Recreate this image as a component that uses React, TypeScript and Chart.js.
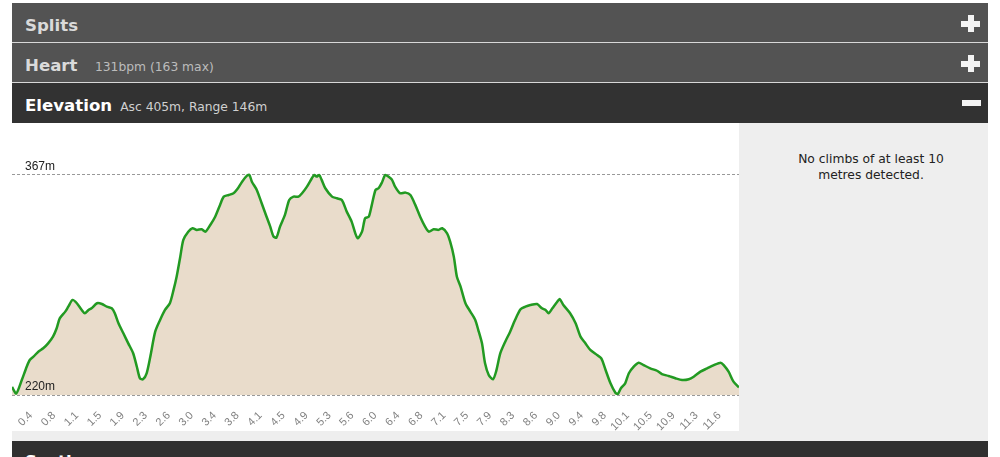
import React, { useEffect, useRef } from "react";
import { Chart, registerables } from "chart.js";

Chart.register(...registerables);

// distance along the route (km) and elevation (m), read from the profile
const DIST_KM = [
  0.13, 0.2, 0.29, 0.37, 0.42, 0.48, 0.56, 0.64, 0.72, 0.8,
  0.86, 0.91, 1.0, 1.05, 1.12, 1.19, 1.27, 1.32, 1.38, 1.43,
  1.52, 1.6, 1.68, 1.76, 1.81, 1.87, 1.95, 2.03, 2.11, 2.17,
  2.22, 2.27, 2.33, 2.39, 2.47, 2.55, 2.63, 2.71, 2.77, 2.82,
  2.88, 2.93, 3.01, 3.08, 3.15, 3.23, 3.29, 3.37, 3.45, 3.53,
  3.59, 3.67, 3.75, 3.81, 3.89, 3.97, 4.01, 4.05, 4.13, 4.21,
  4.29, 4.35, 4.4, 4.45, 4.51, 4.59, 4.66, 4.73, 4.81, 4.87,
  4.95, 5.03, 5.07, 5.11, 5.15, 5.19, 5.25, 5.36, 5.44, 5.52,
  5.6, 5.68, 5.74, 5.78, 5.85, 5.9, 5.96, 6.01, 6.07, 6.12,
  6.17, 6.23, 6.28, 6.34, 6.39, 6.47, 6.56, 6.64, 6.72, 6.8,
  6.88, 6.94, 7.02, 7.1, 7.16, 7.24, 7.29, 7.35, 7.4, 7.46,
  7.54, 7.62, 7.7, 7.75, 7.81, 7.86, 7.92, 7.99, 8.04, 8.11,
  8.19, 8.27, 8.35, 8.44, 8.52, 8.6, 8.71, 8.79, 8.85, 8.9,
  8.96, 9.04, 9.08, 9.14, 9.25, 9.34, 9.42, 9.5, 9.58, 9.69,
  9.76, 9.83, 9.91, 9.99, 10.03, 10.08, 10.15, 10.21, 10.29, 10.37,
  10.45, 10.56, 10.67, 10.75, 10.86, 10.97, 11.08, 11.19, 11.27, 11.38,
  11.49, 11.6, 11.71, 11.76, 11.84, 11.92, 12.01,
];

const ELEV_M = [
  225.4, 221.0, 230.0, 238.9, 243.4, 245.6, 248.9, 251.2, 254.5, 259.0,
  264.6, 271.2, 275.7, 279.0, 283.5, 281.3, 276.8, 274.6, 276.8, 277.9,
  281.3, 280.8, 279.0, 277.9, 274.6, 267.9, 261.2, 254.5, 247.9, 238.9,
  231.2, 230.5, 234.5, 245.6, 262.3, 270.1, 276.8, 281.3, 290.2, 299.0,
  312.4, 323.6, 329.1, 331.4, 330.3, 330.7, 329.1, 333.6, 339.1, 347.0,
  352.5, 353.6, 354.8, 357.4, 362.5, 366.5, 367.0, 362.5, 357.0, 348.1,
  339.1, 332.5, 326.2, 325.1, 332.5, 340.3, 350.3, 352.5, 352.5, 354.8,
  359.2, 364.8, 367.0, 365.9, 367.0, 363.7, 358.1, 352.5, 351.4, 350.3,
  342.5, 335.8, 328.0, 324.7, 329.1, 338.1, 339.1, 347.0, 357.0, 358.1,
  361.5, 367.0, 365.9, 363.7, 359.2, 354.8, 355.2, 353.6, 347.0, 339.1,
  332.5, 329.1, 330.7, 330.3, 331.4, 328.0, 322.4, 312.4, 299.0, 292.4,
  281.3, 275.7, 270.1, 263.4, 254.5, 241.2, 233.4, 230.5, 235.6, 247.9,
  255.6, 262.3, 270.1, 277.3, 279.0, 280.1, 280.8, 277.9, 276.8, 274.6,
  277.9, 282.3, 284.1, 280.1, 274.6, 267.9, 259.0, 254.5, 250.1, 246.7,
  244.5, 236.7, 227.8, 221.5, 220.7, 224.5, 227.8, 234.5, 238.9, 241.6,
  240.0, 237.8, 236.2, 234.0, 232.7, 231.2, 230.0, 230.5, 232.2, 235.6,
  237.8, 240.0, 241.6, 240.0, 235.6, 228.9, 225.1,
];

// x-axis ticks (km) and their labels
const X_TICK_VALUES = [
  0.375, 0.75, 1.125, 1.5, 1.875, 2.25, 2.625, 3.0, 3.375, 3.75, 4.125,
  4.5, 4.875, 5.25, 5.625, 6.0, 6.375, 6.75, 7.125, 7.5, 7.875, 8.25,
  8.625, 9.0, 9.375, 9.75, 10.125, 10.5, 10.875, 11.25, 11.625,
];
const X_TICK_LABELS = [
  "0.4", "0.8", "1.1", "1.5", "1.9", "2.3", "2.6", "3.0", "3.4", "3.8", "4.1",
  "4.5", "4.9", "5.3", "5.6", "6.0", "6.4", "6.8", "7.1", "7.5", "7.9", "8.3",
  "8.6", "9.0", "9.4", "9.8", "10.1", "10.5", "10.9", "11.3", "11.6",
];

// min / max elevation markers
const Y_MARKERS = [220, 367];
const Y_MARKER_LABELS = ["220m", "367m"];
const Y_MIN = 220;
const Y_MAX = 401.7;

const HEAD_FONT = '"DejaVu Sans", Verdana, sans-serif';

function ElevationChart() {
  const ref = useRef<HTMLCanvasElement | null>(null);
  useEffect(() => {
    if (!ref.current) return;
    const chart = new Chart(ref.current, {
      type: "line",
      data: {
        datasets: [
          {
            data: DIST_KM.map((x, i) => ({ x, y: ELEV_M[i] })),
            borderColor: "#229a22",
            borderWidth: 2.5,
            backgroundColor: "#e9dccb",
            fill: "start",
            pointRadius: 0,
            tension: 0.25,
          },
        ],
      },
      options: {
        animation: false,
        responsive: false,
        maintainAspectRatio: false,
        layout: { padding: 0 },
        plugins: { legend: { display: false }, tooltip: { enabled: false } },
        scales: {
          x: {
            type: "linear",
            min: DIST_KM[0],
            max: DIST_KM[DIST_KM.length - 1],
            grid: { display: false, drawTicks: false },
            border: { display: false },
            afterBuildTicks: (s: any) => {
              s.ticks = X_TICK_VALUES.map((v) => ({ value: v }));
            },
            afterFit: (s: any) => {
              s.height = 36;
              s.paddingLeft = 0;
              s.paddingRight = 0;
            },
            ticks: {
              autoSkip: false,
              minRotation: 45,
              maxRotation: 45,
              padding: 14,
              labelOffset: 4,
              color: "#808080",
              font: { family: '"Liberation Sans", Arial, sans-serif', size: 11 },
              callback: (_v: any, i: number) => X_TICK_LABELS[i],
            },
          },
          y: {
            type: "linear",
            position: "left",
            min: Y_MIN,
            max: Y_MAX,
            grid: { color: "#999", lineWidth: 1, drawTicks: false },
            border: { display: false, dash: [3, 2] },
            afterBuildTicks: (s: any) => {
              s.ticks = Y_MARKERS.map((v) => ({ value: v }));
            },
            afterFit: (s: any) => {
              s.width = 0;
              s.paddingTop = 0;
              s.paddingBottom = 0;
            },
            ticks: {
              z: 1,
              autoSkip: false,
              mirror: true,
              padding: 13,
              labelOffset: -8,
              color: "#222",
              font: { family: '"Liberation Sans", Arial, sans-serif', size: 12 },
              callback: (_v: any, i: number) => Y_MARKER_LABELS[i],
            },
          },
        },
      },
    });
    return () => chart.destroy();
  }, []);
  return (
    <canvas
      ref={ref}
      width={727}
      height={308}
      style={{ position: "absolute", left: 12, top: 123, width: 727, height: 308, display: "block" }}
    />
  );
}

function Plus({ cy }: { cy: number }) {
  return (
    <>
      <div style={{ position: "absolute", left: 961, top: cy - 3, width: 19, height: 6, background: "#f4f4f4" }} />
      <div style={{ position: "absolute", left: 967.5, top: cy - 8.5, width: 6, height: 17, background: "#f4f4f4" }} />
    </>
  );
}

function Bar({ top, height, bg, title, titleColor, sub, subColor, subGap }: any) {
  return (
    <div style={{ position: "absolute", left: 12, top, width: 976, height, background: bg }}>
      <div
        style={{
          position: "absolute",
          left: 13,
          top: 3,
          lineHeight: height + "px",
          whiteSpace: "nowrap",
          fontFamily: HEAD_FONT,
        }}
      >
        <span style={{ fontWeight: "bold", fontSize: 16.6, color: titleColor }}>{title}</span>
        {sub ? (
          <span style={{ fontSize: 12.3, color: subColor, marginLeft: subGap }}>{sub}</span>
        ) : null}
      </div>
    </div>
  );
}

export default function App() {
  return (
    <div
      style={{
        position: "absolute",
        left: 0,
        top: 0,
        width: 1000,
        height: 457,
        overflow: "hidden",
        background: "#fff",
        fontFamily: HEAD_FONT,
      }}
    >
      <Bar top={3} height={39} bg="#535353" title="Splits" titleColor="#dadada" />
      <div style={{ position: "absolute", left: 12, top: 42, width: 976, height: 1, background: "#d8d8d8" }} />
      <Bar top={43} height={39} bg="#535353" title="Heart" titleColor="#dadada" sub="131bpm (163 max)" subColor="#bcbcbc" subGap={17.5} />
      <div style={{ position: "absolute", left: 12, top: 82, width: 976, height: 1, background: "#d8d8d8" }} />
      <Bar top={83} height={40} bg="#323232" title="Elevation" titleColor="#ffffff" sub="Asc 405m, Range 146m" subColor="#d0d0d0" subGap={8} />
      <Plus cy={23.5} />
      <Plus cy={63.5} />
      <div style={{ position: "absolute", left: 962, top: 99.5, width: 19, height: 6.5, background: "#f4f4f4" }} />

      <div style={{ position: "absolute", left: 12, top: 123, width: 976, height: 318, background: "#eeeeee" }} />
      <div style={{ position: "absolute", left: 12, top: 123, width: 727, height: 308, background: "#ffffff" }} />
      <ElevationChart />
      <div
        style={{
          position: "absolute",
          left: 754,
          top: 150.5,
          width: 234,
          textAlign: "center",
          fontSize: 12.3,
          lineHeight: "16px",
          color: "#222",
          fontFamily: HEAD_FONT,
        }}
      >
        No climbs of at least 10
        <br />
        metres detected.
      </div>

      <div style={{ position: "absolute", left: 12, top: 441, width: 976, height: 40, background: "#303030" }}>
        <div
          style={{
            position: "absolute",
            left: 13,
            top: 1,
            lineHeight: "39px",
            fontWeight: "bold",
            fontSize: 16.6,
            color: "#fff",
            fontFamily: HEAD_FONT,
          }}
        >
          Sections
        </div>
      </div>
    </div>
  );
}
